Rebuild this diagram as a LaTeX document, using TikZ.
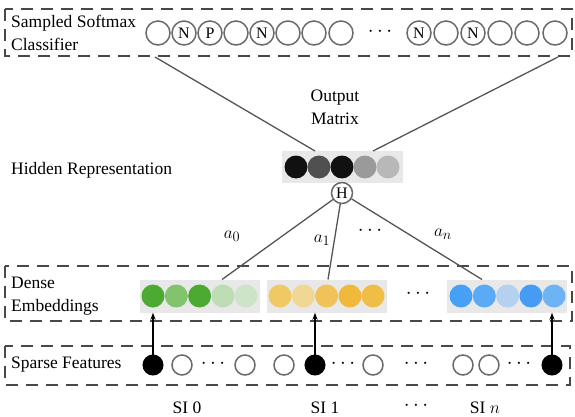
\documentclass[tikz,border=0pt]{standalone}
\usepackage{fontspec}
\setmainfont{Liberation Serif}
\usetikzlibrary{arrows.meta}
\definecolor{dgray}{HTML}{484848}
\definecolor{cgray}{HTML}{6A6A6A}
\definecolor{lgray}{HTML}{555555}
\definecolor{bgbox}{HTML}{E8E8E8}
\definecolor{ga}{HTML}{4CAA32}\definecolor{gb}{HTML}{82C36E}\definecolor{gc}{HTML}{4CAA32}\definecolor{gd}{HTML}{BEDDB4}\definecolor{ge}{HTML}{CDE4C8}
\definecolor{ya}{HTML}{F0C864}\definecolor{yb}{HTML}{F0D796}\definecolor{yc}{HTML}{F0C35A}\definecolor{yd}{HTML}{F0B93C}\definecolor{ye}{HTML}{F0BE46}
\definecolor{ba}{HTML}{46A0F5}\definecolor{bb}{HTML}{5AAAF5}\definecolor{bc}{HTML}{B4D2F0}\definecolor{bd}{HTML}{469BF5}\definecolor{be}{HTML}{6EB4F5}
\definecolor{ka}{HTML}{111111}\definecolor{kb}{HTML}{505050}\definecolor{kc}{HTML}{111111}\definecolor{kd}{HTML}{9A9A9A}\definecolor{ke}{HTML}{B8B8B8}
\begin{document}
\begin{tikzpicture}[x=1pt,y=-1pt,
  lbl/.style={font=\fontsize{17.5}{23}\selectfont, inner sep=0pt, align=left},
  mlbl/.style={font=\fontsize{19}{19}\selectfont, inner sep=0pt},
  dbox/.style={draw=dgray, line width=2.2pt, dash pattern=on 12pt off 8pt},
  ocirc/.style={circle, draw=cgray, line width=1.5pt, minimum size=24pt, inner sep=0pt, fill=white, font=\fontsize{16}{16}\selectfont},
  scirc/.style={circle, draw=cgray, line width=1.5pt, minimum size=20pt, inner sep=0pt, fill=white},
  bcirc/.style={circle, draw=black, fill=black, line width=1pt, minimum size=20pt, inner sep=0pt},
  dcirc/.style={circle, minimum size=23pt, inner sep=0pt},
  panel/.style={fill=bgbox, inner sep=0pt, minimum height=33pt, minimum width=120pt},
  conn/.style={draw=lgray, line width=1.3pt},
  arr/.style={draw=black, line width=1.3pt, -{Stealth[length=7pt,width=5pt]}},
  dots/.style={inner sep=0pt, font=\fontsize{20}{20}\selectfont}]
\useasboundingbox (0,0) rectangle (575,417);

% dashed boxes
\draw[dbox] (5,9) rectangle (572,56);
\draw[dbox] (5,266) rectangle (572,321);
\draw[dbox] (5,346) rectangle (570,385);

% labels
\node[lbl, anchor=west] (lsm) at (11,33) {Sampled Softmax\\Classifier};
\node[lbl, align=center] (lom) at (335,107) {Output\\Matrix};
\node[lbl, anchor=west] (lhr) at (11,170) {Hidden Representation};
\node[lbl, anchor=west] (lde) at (11,296) {Dense\\Embeddings};
\node[lbl, anchor=west] (lsf) at (11,365) {Sparse Features};
\node[lbl] (si0) at (187,408) {SI 0};
\node[lbl] (si1) at (325,408) {SI 1};
\node[dots] (sid) at (416,406) {$\cdots$};
\node[lbl] (sin) at (485,408) {SI $n$};

% top classifier row
\foreach \x/\t [count=\i] in {158/,184/N,210/P,236/,262/N,288/,314/,341/,419/N,446/,473/N,500/,527/,555/}
  \node[ocirc] (t\i) at (\x,33) {\t};
\node[dots] (tdots) at (380,32) {$\cdots$};

% hidden representation
\node[panel, minimum width=121pt, minimum height=32pt] (hid) at (342.5,167) {};
\foreach \x/\c [count=\i] in {296/ka,319/kb,342/kc,365/kd,388/ke}
  \node[dcirc, fill=\c] (h\i) at (\x,167) {};
\node[circle, draw=cgray, line width=1.5pt, fill=white, minimum size=21pt, inner sep=0pt, font=\fontsize{16}{16}\selectfont] (H) at (342,193) {H};

% dense embeddings
\node[panel] (eg) at (199.5,296) {};
\node[panel] (ey) at (326.5,296) {};
\node[panel] (eb) at (507,296) {};
\foreach \x/\c [count=\i] in {153/ga,176.3/gb,199.6/gc,223/gd,246/ge}
  \node[dcirc, fill=\c] (g\i) at (\x,296) {};
\foreach \x/\c [count=\i] in {280/ya,303.3/yb,326.6/yc,350/yd,373/ye}
  \node[dcirc, fill=\c] (y\i) at (\x,296) {};
\foreach \x/\c [count=\i] in {461/ba,484.3/bb,507.6/bc,531/bd,554/be}
  \node[dcirc, fill=\c] (b\i) at (\x,296) {};
\node[dots] (edots) at (418,294) {$\cdots$};

% sparse features
\node[bcirc] (s1) at (153,365) {};
\node[scirc] (s2) at (182,365) {};
\node[dots] (sd1) at (213,364) {$\cdots$};
\node[scirc] (s3) at (245,365) {};
\node[scirc] (s4) at (284,365) {};
\node[bcirc] (s5) at (315,365) {};
\node[dots] (sd2) at (343,364) {$\cdots$};
\node[scirc] (s6) at (373,365) {};
\node[dots] (sd3) at (416,364) {$\cdots$};
\node[scirc] (s7) at (463,365) {};
\node[scirc] (s8) at (489,365) {};
\node[dots] (sd4) at (519,364) {$\cdots$};
\node[bcirc] (s9) at (552,365) {};

% weights
\node[mlbl] (a0) at (232,236) {$a_0$};
\node[mlbl] (a1) at (322,240) {$a_1$};
\node[dots] (adots) at (370,231) {$\cdots$};
\node[mlbl] (an) at (443,234) {$a_n$};

% connectors top
\coordinate (ctl) at (155,57);
\coordinate (ctr) at (558,57);
\coordinate (chl) at (315,151);
\coordinate (chr) at (373,151);
\draw[conn] (ctl) -- (chl);
\draw[conn] (ctr) -- (chr);

% connectors from H
\coordinate (cg) at (222,279.5);
\coordinate (cy) at (328,279.5);
\coordinate (cb) at (482,279.5);
\draw[conn] (H) -- (cg);
\draw[conn] (H) -- (cy);
\draw[conn] (H) -- (cb);

% arrows from sparse to dense
\draw[arr] (s1) -- (s1 |- eg.south);
\draw[arr] (s5) -- (s5 |- ey.south);
\draw[arr] (s9) -- (s9 |- eb.south);
\end{tikzpicture}
\end{document}
